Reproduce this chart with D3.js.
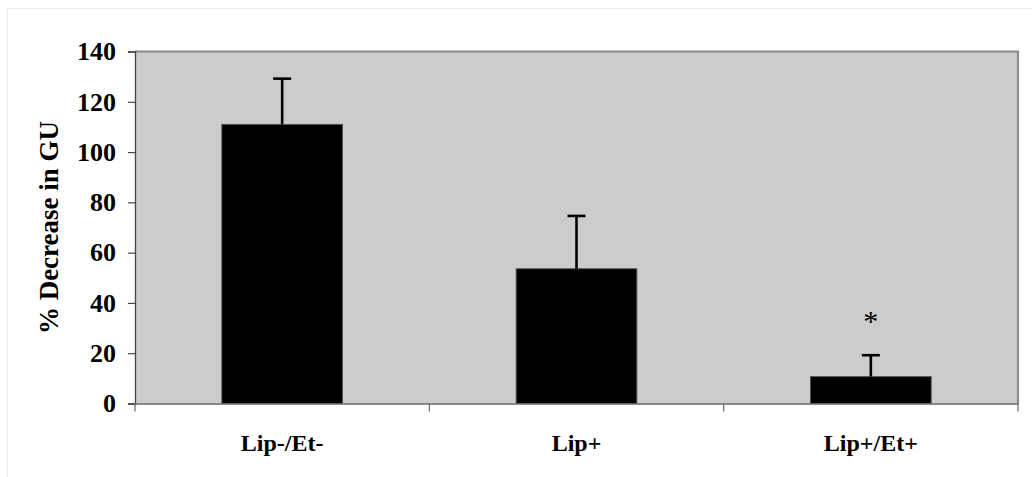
<!DOCTYPE html>
<meta charset="utf-8">
<html>
<body style="margin:0;background:#fff">
<div id="chartContainer"></div>
<script src="https://cdn.jsdelivr.net/npm/d3@7"></script>
<script type="text/javascript">
    var categories = ["Lip-/Et-", "Lip+", "Lip+/Et+"];
    var means = [111, 53.6, 10.7];
    var errors = [18.2, 21, 8.5];
    var marks = ["", "", "*"];
    var yTicks = [0, 20, 40, 60, 80, 100, 120, 140];

    var W = 1032, H = 477;
    var mLeft = 135, mRight = 1018, mTop = 51.5, mBottom = 403.5;
    var font = "'Liberation Serif', 'Times New Roman', serif";

    var svg = d3.select("#chartContainer").append("svg")
        .attr("width", W).attr("height", H);

    // faint outer frame
    svg.append("rect")
        .attr("x", 7.5).attr("y", 8.5).attr("width", W).attr("height", H)
        .attr("fill", "none").attr("stroke", "#ececec");

    var x = d3.scaleBand().domain(categories).range([mLeft, mRight]).padding(0);
    var y = d3.scaleLinear().domain([0, 140]).range([mBottom, mTop]);
    var barW = x.bandwidth() * 0.41;

    // plot area
    svg.append("rect")
        .attr("x", mLeft).attr("y", mTop)
        .attr("width", mRight - mLeft).attr("height", mBottom - mTop)
        .attr("fill", "#cccccc");
    svg.append("path")
        .attr("d", "M" + mLeft + "," + mTop + "H" + mRight + "V" + mBottom)
        .attr("fill", "none").attr("stroke", "#8a8a8a").attr("stroke-width", 2.2);

    // bars
    svg.selectAll("rect.bar").data(means).enter().append("rect")
        .attr("class", "bar")
        .attr("x", function (d, i) { return x(categories[i]) + (x.bandwidth() - barW) / 2; })
        .attr("y", function (d) { return y(d); })
        .attr("width", barW)
        .attr("height", function (d) { return y(0) - y(d); })
        .attr("fill", "#000").attr("stroke", "#555").attr("stroke-width", 1);

    // error bars (upper only)
    var eb = svg.selectAll("g.err").data(means).enter().append("g").attr("class", "err");
    eb.append("line")
        .attr("x1", function (d, i) { return x(categories[i]) + x.bandwidth() / 2; })
        .attr("x2", function (d, i) { return x(categories[i]) + x.bandwidth() / 2; })
        .attr("y1", function (d) { return y(d); })
        .attr("y2", function (d, i) { return y(d + errors[i]); })
        .attr("stroke", "#000").attr("stroke-width", 2.6);
    eb.append("line")
        .attr("x1", function (d, i) { return x(categories[i]) + x.bandwidth() / 2 - 9; })
        .attr("x2", function (d, i) { return x(categories[i]) + x.bandwidth() / 2 + 9; })
        .attr("y1", function (d, i) { return y(d + errors[i]); })
        .attr("y2", function (d, i) { return y(d + errors[i]); })
        .attr("stroke", "#000").attr("stroke-width", 2.6);

    // significance marks
    svg.selectAll("text.mark").data(marks).enter().append("text")
        .attr("class", "mark")
        .attr("x", function (d, i) { return x(categories[i]) + x.bandwidth() / 2; })
        .attr("y", function (d, i) { return y(means[i] + errors[i]) - 24; })
        .attr("text-anchor", "middle")
        .style("font-family", font).style("font-size", "30px")
        .text(function (d) { return d; });

    // y axis
    var yAxis = d3.axisLeft(y).tickValues(yTicks).tickSize(7).tickPadding(12);
    var gy = svg.append("g").attr("transform", "translate(" + mLeft + ",0)").call(yAxis);
    gy.select(".domain").attr("stroke", "#444").attr("stroke-width", 1.3);
    gy.selectAll(".tick line").attr("stroke", "#444").attr("stroke-width", 1.2);
    gy.selectAll(".tick text")
        .style("font-family", font).style("font-size", "26px")
        .style("font-weight", "bold").attr("fill", "#000");

    // x axis
    var xAxis = d3.axisBottom(x).tickSize(0).tickPadding(30);
    var gx = svg.append("g").attr("transform", "translate(0," + mBottom + ")").call(xAxis);
    gx.select(".domain").attr("stroke", "#666").attr("stroke-width", 1.6);
    gx.selectAll(".tick text")
        .style("font-family", font).style("font-size", "24px")
        .style("font-weight", "bold").attr("fill", "#000");
    // category separators
    var seps = categories.map(function (c) { return x(c); }).concat([mRight]);
    gx.selectAll("line.sep").data(seps).enter().append("line")
        .attr("class", "sep")
        .attr("x1", function (d) { return d; }).attr("x2", function (d) { return d; })
        .attr("y1", 0).attr("y2", 8)
        .attr("stroke", "#666").attr("stroke-width", 1.2);

    // y title
    svg.append("text")
        .attr("transform", "translate(58," + ((mTop + mBottom) / 2) + ") rotate(-90)")
        .attr("text-anchor", "middle")
        .style("font-family", font).style("font-size", "27px").style("font-weight", "bold")
        .text("% Decrease in GU");
</script>
</body>
</html>
